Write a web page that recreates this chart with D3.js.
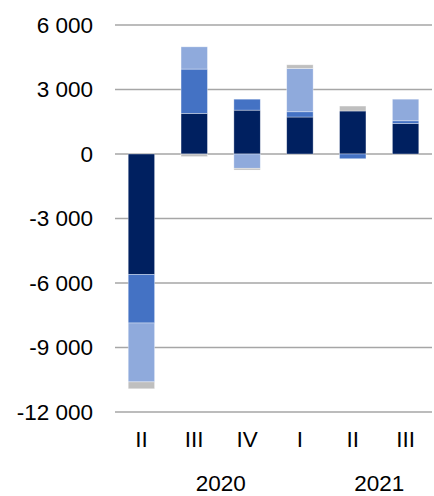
<!DOCTYPE html>
<html>
<head>
<meta charset="utf-8">
<script src="https://cdn.jsdelivr.net/npm/d3@7"></script>
<style>
  body { margin: 0; background: #fff; }
  text { font-family: "Liberation Sans", Arial, sans-serif; fill: #000; }
</style>
</head>
<body>
<div id="chart-area"></div>
<script>
// quarters and years
var quarters = ["II", "III", "IV", "I", "II", "III"]
var keys = ["2020 II", "2020 III", "2020 IV", "2021 I", "2021 II", "2021 III"]
var years = ["2020", "2021"]
var yearSpans = [["2020 III", "2020 IV"], ["2021 II", "2021 III"]]

// series values
var seriesNames = ["s1", "s2", "s3", "s4"]
var s1 = [-5600, 1890, 2040, 1720, 2000, 1420]
var s2 = [-2260, 2060, 510, 245, -220, 125]
var s3 = [-2740, 1035, -665, 2015, 0, 1005]
var s4 = [-320, -120, -80, 170, 230, 0]
var colors = ["#002060", "#4472C4", "#8FAADC", "#BFBFBF"]

var yTicks = [6000, 3000, 0, -3000, -6000, -9000, -12000]

var rows = keys.map(function(k, i){
    return {key: k, s1: s1[i], s2: s2[i], s3: s3[i], s4: s4[i]}
})

var margin = {top: 25, right: 2, bottom: 84, left: 115}
var width = 434 - margin.left - margin.right
var height = 496 - margin.top - margin.bottom

var convertToY = d3.scaleLinear()
    .domain([-12000, 6000])
    .range([height, 0])

var convertToX = d3.scaleBand()
    .domain(keys)
    .range([0, width])
    .paddingInner(0.5)
    .paddingOuter(0.25)

var svg = d3.select("#chart-area")
    .append("svg")
    .attr("width", 434)
    .attr("height", 496)

var group = svg.append("g")
    .attr("transform", "translate(" + margin.left + "," + margin.top + ")")

// gridlines
group.selectAll(".grid")
    .data(yTicks)
    .enter().append("line")
    .attr("x1", 0)
    .attr("x2", width)
    .attr("y1", function(d){ return convertToY(d) })
    .attr("y2", function(d){ return convertToY(d) })
    .attr("stroke", "#a6a6a6")
    .attr("stroke-width", 1.4)

// y labels, hyphen minus and space as thousands separator
group.selectAll(".ylab")
    .data(yTicks)
    .enter().append("text")
    .attr("x", -22)
    .attr("y", function(d){ return convertToY(d) })
    .attr("dy", "0.34em")
    .attr("text-anchor", "end")
    .style("font-size", "22.5px")
    .text(function(d){
        return d3.format(",")(d).replace(/,/g, " ").replace("\u2212", "-")
    })

var stacked = d3.stack()
    .keys(seriesNames)
    .offset(d3.stackOffsetDiverging)(rows)

group.selectAll(".series")
    .data(stacked)
    .enter().append("g")
    .attr("fill", function(d, i){ return colors[i] })
    .selectAll("rect")
    .data(function(d){ return d })
    .enter().append("rect")
    .attr("x", function(d){ return convertToX(d.data.key) })
    .attr("width", convertToX.bandwidth())
    .attr("y", function(d){ return convertToY(Math.max(d[0], d[1])) })
    .attr("height", function(d){ return Math.abs(convertToY(d[0]) - convertToY(d[1])) })
    .attr("stroke", "#ffffff")
    .attr("stroke-opacity", 0.5)
    .attr("stroke-width", 0.7)

// quarter labels
group.selectAll(".qlab")
    .data(keys)
    .enter().append("text")
    .attr("x", function(d){ return convertToX(d) + convertToX.bandwidth() / 2 })
    .attr("y", height + 35)
    .attr("text-anchor", "middle")
    .style("font-size", "22.5px")
    .text(function(d, i){ return quarters[i] })

// year labels
group.selectAll(".yrlab")
    .data(years)
    .enter().append("text")
    .attr("x", function(d, i){
        var a = convertToX(yearSpans[i][0]), b = convertToX(yearSpans[i][1])
        return (a + b) / 2 + convertToX.bandwidth() / 2
    })
    .attr("y", height + 79)
    .attr("text-anchor", "middle")
    .style("font-size", "22.5px")
    .text(function(d){ return d })
</script>
</body>
</html>
